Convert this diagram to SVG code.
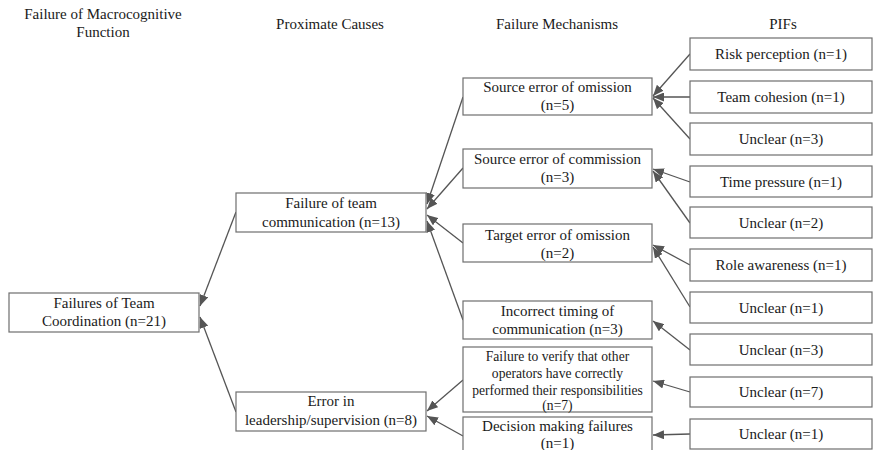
<svg xmlns="http://www.w3.org/2000/svg" width="873" height="450" viewBox="0 0 873 450" font-family="'Liberation Serif', 'DejaVu Serif', 'Noto Serif', 'Times New Roman', serif">
  <style>
    text { font-size: 15px; fill: #1a1a1a; text-anchor: middle; }
    .small { font-size: 13.6px; }
    .box { fill: #ffffff; stroke: #6e6e6e; stroke-width: 1.2; }
    .edge { stroke: #555555; stroke-width: 1.3; fill: none; marker-end: url(#arrow); }
  </style>
  <defs>
    <marker id="arrow" markerUnits="userSpaceOnUse" markerWidth="12" markerHeight="9" refX="11" refY="4.5" orient="auto">
      <path d="M0,0 L11,4.5 L0,9 z" fill="#555555"/>
    </marker>
  </defs>
  <rect width="873" height="450" fill="#ffffff"/>

  <!-- column headings -->
  <g id="headings">
    <text x="103" y="19">Failure of Macrocognitive</text>
    <text x="103" y="37">Function</text>
    <text x="330" y="29">Proximate Causes</text>
    <text x="557" y="29">Failure Mechanisms</text>
    <text x="783" y="29">PIFs</text>
  </g>

  <!-- connectors -->
  <g id="connectors">
    <line class="edge" x1="236" y1="212" x2="200" y2="306"/>
    <line class="edge" x1="236" y1="412" x2="200" y2="317"/>
    <line class="edge" x1="463" y1="97" x2="427" y2="204"/>
    <line class="edge" x1="463" y1="168" x2="427" y2="209"/>
    <line class="edge" x1="463" y1="243" x2="427" y2="215"/>
    <line class="edge" x1="463" y1="320" x2="427" y2="221"/>
    <line class="edge" x1="463" y1="380" x2="427" y2="411"/>
    <line class="edge" x1="463" y1="436" x2="427" y2="416"/>
    <line class="edge" x1="690" y1="54" x2="653" y2="96"/>
    <line class="edge" x1="690" y1="97" x2="653" y2="97"/>
    <line class="edge" x1="690" y1="139" x2="653" y2="98"/>
    <line class="edge" x1="690" y1="182" x2="653" y2="169"/>
    <line class="edge" x1="690" y1="223" x2="653" y2="171"/>
    <line class="edge" x1="690" y1="265" x2="653" y2="245"/>
    <line class="edge" x1="690" y1="307" x2="653" y2="247"/>
    <line class="edge" x1="690" y1="350" x2="653" y2="321"/>
    <line class="edge" x1="690" y1="392" x2="653" y2="381"/>
    <line class="edge" x1="690" y1="434" x2="653" y2="435"/>
  </g>

  <!-- macrocognitive function -->
  <g id="team-coordination">
    <rect class="box" x="9" y="293" width="190" height="39"/>
    <text x="104" y="307.5">Failures of Team</text>
    <text x="104" y="326">Coordination (n=21)</text>
  </g>

  <!-- proximate causes -->
  <g id="team-communication">
    <rect class="box" x="236" y="193" width="190" height="39"/>
    <text x="331" y="208">Failure of team</text>
    <text x="331" y="226.5">communication (n=13)</text>
  </g>
  <g id="leadership">
    <rect class="box" x="236" y="392" width="190" height="39"/>
    <text x="331" y="406">Error in</text>
    <text x="331" y="425">leadership/supervision (n=8)</text>
  </g>

  <!-- failure mechanisms -->
  <g id="source-omission">
    <rect class="box" x="463" y="78" width="189" height="37"/>
    <text x="557.5" y="92">Source error of omission</text>
    <text x="557.5" y="110">(n=5)</text>
  </g>
  <g id="source-commission">
    <rect class="box" x="463" y="149" width="189" height="39"/>
    <text x="557.5" y="164">Source error of commission</text>
    <text x="557.5" y="182">(n=3)</text>
  </g>
  <g id="target-omission">
    <rect class="box" x="463" y="224" width="189" height="38"/>
    <text x="557.5" y="240">Target error of omission</text>
    <text x="557.5" y="258">(n=2)</text>
  </g>
  <g id="incorrect-timing">
    <rect class="box" x="463" y="301" width="189" height="38"/>
    <text x="557.5" y="316">Incorrect timing of</text>
    <text x="557.5" y="334">communication (n=3)</text>
  </g>
  <g id="failure-to-verify">
    <rect class="box" x="463" y="347" width="189" height="65"/>
    <text class="small" x="557.5" y="361">Failure to verify that other</text>
    <text class="small" x="557.5" y="378">operators have correctly</text>
    <text class="small" x="557.5" y="394.5">performed their responsibilities</text>
    <text class="small" x="557.5" y="410">(n=7)</text>
  </g>
  <g id="decision-making">
    <rect class="box" x="463" y="417" width="189" height="40"/>
    <text x="557.5" y="431">Decision making failures</text>
    <text x="557.5" y="448">(n=1)</text>
  </g>

  <!-- performance influencing factors -->
  <g id="pif-risk-perception">
    <rect class="box" x="690" y="38" width="182" height="32"/>
    <text x="781" y="59">Risk perception (n=1)</text>
  </g>
  <g id="pif-team-cohesion">
    <rect class="box" x="690" y="81" width="182" height="32"/>
    <text x="781" y="102">Team cohesion (n=1)</text>
  </g>
  <g id="pif-unclear-omission">
    <rect class="box" x="690" y="123" width="182" height="32"/>
    <text x="781" y="144">Unclear (n=3)</text>
  </g>
  <g id="pif-time-pressure">
    <rect class="box" x="690" y="166" width="182" height="31"/>
    <text x="781" y="186.5">Time pressure (n=1)</text>
  </g>
  <g id="pif-unclear-commission">
    <rect class="box" x="690" y="207" width="182" height="31"/>
    <text x="781" y="227.5">Unclear (n=2)</text>
  </g>
  <g id="pif-role-awareness">
    <rect class="box" x="690" y="249" width="182" height="32"/>
    <text x="781" y="270">Role awareness (n=1)</text>
  </g>
  <g id="pif-unclear-target">
    <rect class="box" x="690" y="292" width="182" height="31"/>
    <text x="781" y="312.5">Unclear (n=1)</text>
  </g>
  <g id="pif-unclear-timing">
    <rect class="box" x="690" y="334" width="182" height="31"/>
    <text x="781" y="354.5">Unclear (n=3)</text>
  </g>
  <g id="pif-unclear-verify">
    <rect class="box" x="690" y="377" width="182" height="30"/>
    <text x="781" y="397">Unclear (n=7)</text>
  </g>
  <g id="pif-unclear-decision">
    <rect class="box" x="690" y="419" width="182" height="30"/>
    <text x="781" y="439">Unclear (n=1)</text>
  </g>
</svg>
